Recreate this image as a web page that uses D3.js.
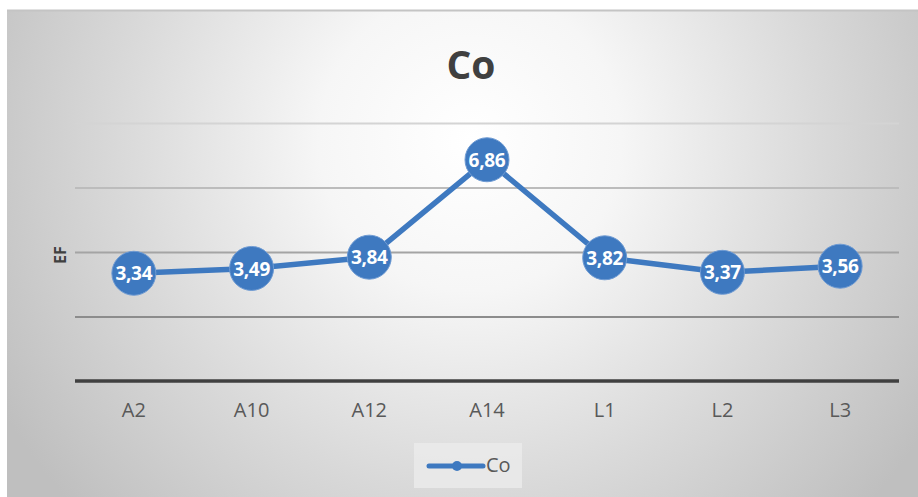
<!DOCTYPE html>
<html>
<head>
<meta charset="utf-8">
<script src="https://cdn.jsdelivr.net/npm/d3@7/dist/d3.min.js"></script>
<style>
  html, body { margin: 0; padding: 0; background: #ffffff; }
  svg { display: block; }
</style>
</head>
<body>
<svg id="chart" width="918" height="497"></svg>
<script>
// Enrichment factor of cobalt per sampling site
const categories = ["A2", "A10", "A12", "A14", "L1", "L2", "L3"];
const coValues = [3.34, 3.49, 3.84, 6.86, 3.82, 3.37, 3.56];
const gridTicks = [2, 4, 6, 8];
const seriesName = "Co";
const chartTitle = "Co";
const yTitle = "EF";

const W = 918, H = 497;
const frame = { x: 7, y: 10, w: 911, h: 487 };
const plot = { left: 75, right: 899, top: 123, bottom: 381 };
const blue = "#3e79c0";
const font = "'Open Sans', 'Noto Sans', sans-serif";

const svg = d3.select("#chart");
const defs = svg.append("defs");

const bg = defs.append("radialGradient")
  .attr("id", "bg")
  .attr("gradientUnits", "userSpaceOnUse")
  .attr("cx", 470).attr("cy", 140).attr("r", 540)
  .attr("fx", 470).attr("fy", 140);
bg.append("stop").attr("offset", "0%").attr("stop-color", "#ffffff");
bg.append("stop").attr("offset", "28%").attr("stop-color", "#f6f6f6");
bg.append("stop").attr("offset", "65%").attr("stop-color", "#d9d9d9");
bg.append("stop").attr("offset", "100%").attr("stop-color", "#bfbfbf");

// chart frame
svg.append("rect")
  .attr("x", frame.x).attr("y", frame.y)
  .attr("width", frame.w).attr("height", frame.h)
  .attr("fill", "url(#bg)");
svg.append("line")
  .attr("x1", frame.x).attr("x2", frame.x + frame.w)
  .attr("y1", frame.y + 0.5).attr("y2", frame.y + 0.5)
  .attr("stroke", "#c4c4c4").attr("stroke-width", 2);

// scales
const x = d3.scaleBand().domain(categories).range([plot.left, plot.right]);
const y = d3.scaleLinear().domain([0, 8]).range([plot.bottom, plot.top]);

// horizontal gridlines, darker toward the axis
const gridColors = d3.scaleLinear().domain([2, 8]).range(["#8c8c8c", "#d4d4d4"]);
const gridAxis = d3.axisLeft(y).tickValues(gridTicks)
  .tickSize(-(plot.right - plot.left)).tickFormat("");
const gridG = svg.append("g")
  .attr("transform", `translate(${plot.left},0)`)
  .call(gridAxis);
gridG.select(".domain").remove();
gridG.selectAll(".tick line")
  .attr("stroke", d => gridColors(d))
  .attr("stroke-width", 2);

// category axis
const xAxis = d3.axisBottom(x).tickSize(0).tickPadding(22);
const xG = svg.append("g")
  .attr("transform", `translate(0,${plot.bottom})`)
  .call(xAxis);
xG.select(".domain")
  .attr("stroke", "#404040").attr("stroke-width", 3.5)
  .attr("d", `M${plot.left},0H${plot.right}`);
xG.selectAll(".tick text")
  .attr("font-family", font).attr("font-size", 20)
  .attr("fill", "#595959");

// titles
svg.append("text")
  .attr("x", 471).attr("y", 79)
  .attr("text-anchor", "middle")
  .attr("font-family", font).attr("font-weight", "bold")
  .attr("font-size", 39).attr("fill", "#404040")
  .text(chartTitle);
svg.append("text")
  .attr("transform", `translate(66,${(y(8) + y(0)) / 2 + 3}) rotate(-90)`)
  .attr("text-anchor", "middle")
  .attr("font-family", font).attr("font-weight", "bold")
  .attr("font-size", 16).attr("fill", "#404040")
  .text(yTitle);

// series line
const cx = d => x(d.cat) + x.bandwidth() / 2;
const data = categories.map((c, i) => ({ cat: c, v: coValues[i] }));
svg.append("path")
  .datum(data)
  .attr("fill", "none")
  .attr("stroke", blue)
  .attr("stroke-width", 5.5)
  .attr("stroke-linejoin", "round")
  .attr("d", d3.line().x(cx).y(d => y(d.v)));

// markers
svg.append("g").selectAll("circle")
  .data(data).join("circle")
  .attr("cx", cx).attr("cy", d => y(d.v))
  .attr("r", 22)
  .attr("fill", blue)
  .attr("stroke", "#6f9bd3").attr("stroke-width", 1);

// value labels
const fmt = d3.formatLocale({ decimal: ",", thousands: ".", grouping: [3], currency: ["", ""] }).format(".2f");
svg.append("g").selectAll("text")
  .data(data).join("text")
  .attr("x", cx).attr("y", d => y(d.v) + 2)
  .attr("text-anchor", "middle")
  .attr("dominant-baseline", "middle")
  .attr("font-family", font).attr("font-weight", "bold")
  .attr("font-size", 19).attr("letter-spacing", -0.3).attr("fill", "#ffffff")
  .text(d => fmt(d.v));

// legend
const lg = svg.append("g").attr("transform", "translate(414,443)");
lg.append("rect").attr("width", 108).attr("height", 45).attr("fill", "#ebebeb").attr("opacity", 0.8);
lg.append("line")
  .attr("x1", 15).attr("x2", 69).attr("y1", 23).attr("y2", 23)
  .attr("stroke", blue).attr("stroke-width", 5).attr("stroke-linecap", "round");
lg.append("circle").attr("cx", 43).attr("cy", 23).attr("r", 5).attr("fill", blue);
lg.append("text")
  .attr("x", 72).attr("y", 24)
  .attr("dominant-baseline", "middle")
  .attr("font-family", font).attr("font-size", 20).attr("fill", "#595959")
  .text(seriesName);
</script>
</body>
</html>
